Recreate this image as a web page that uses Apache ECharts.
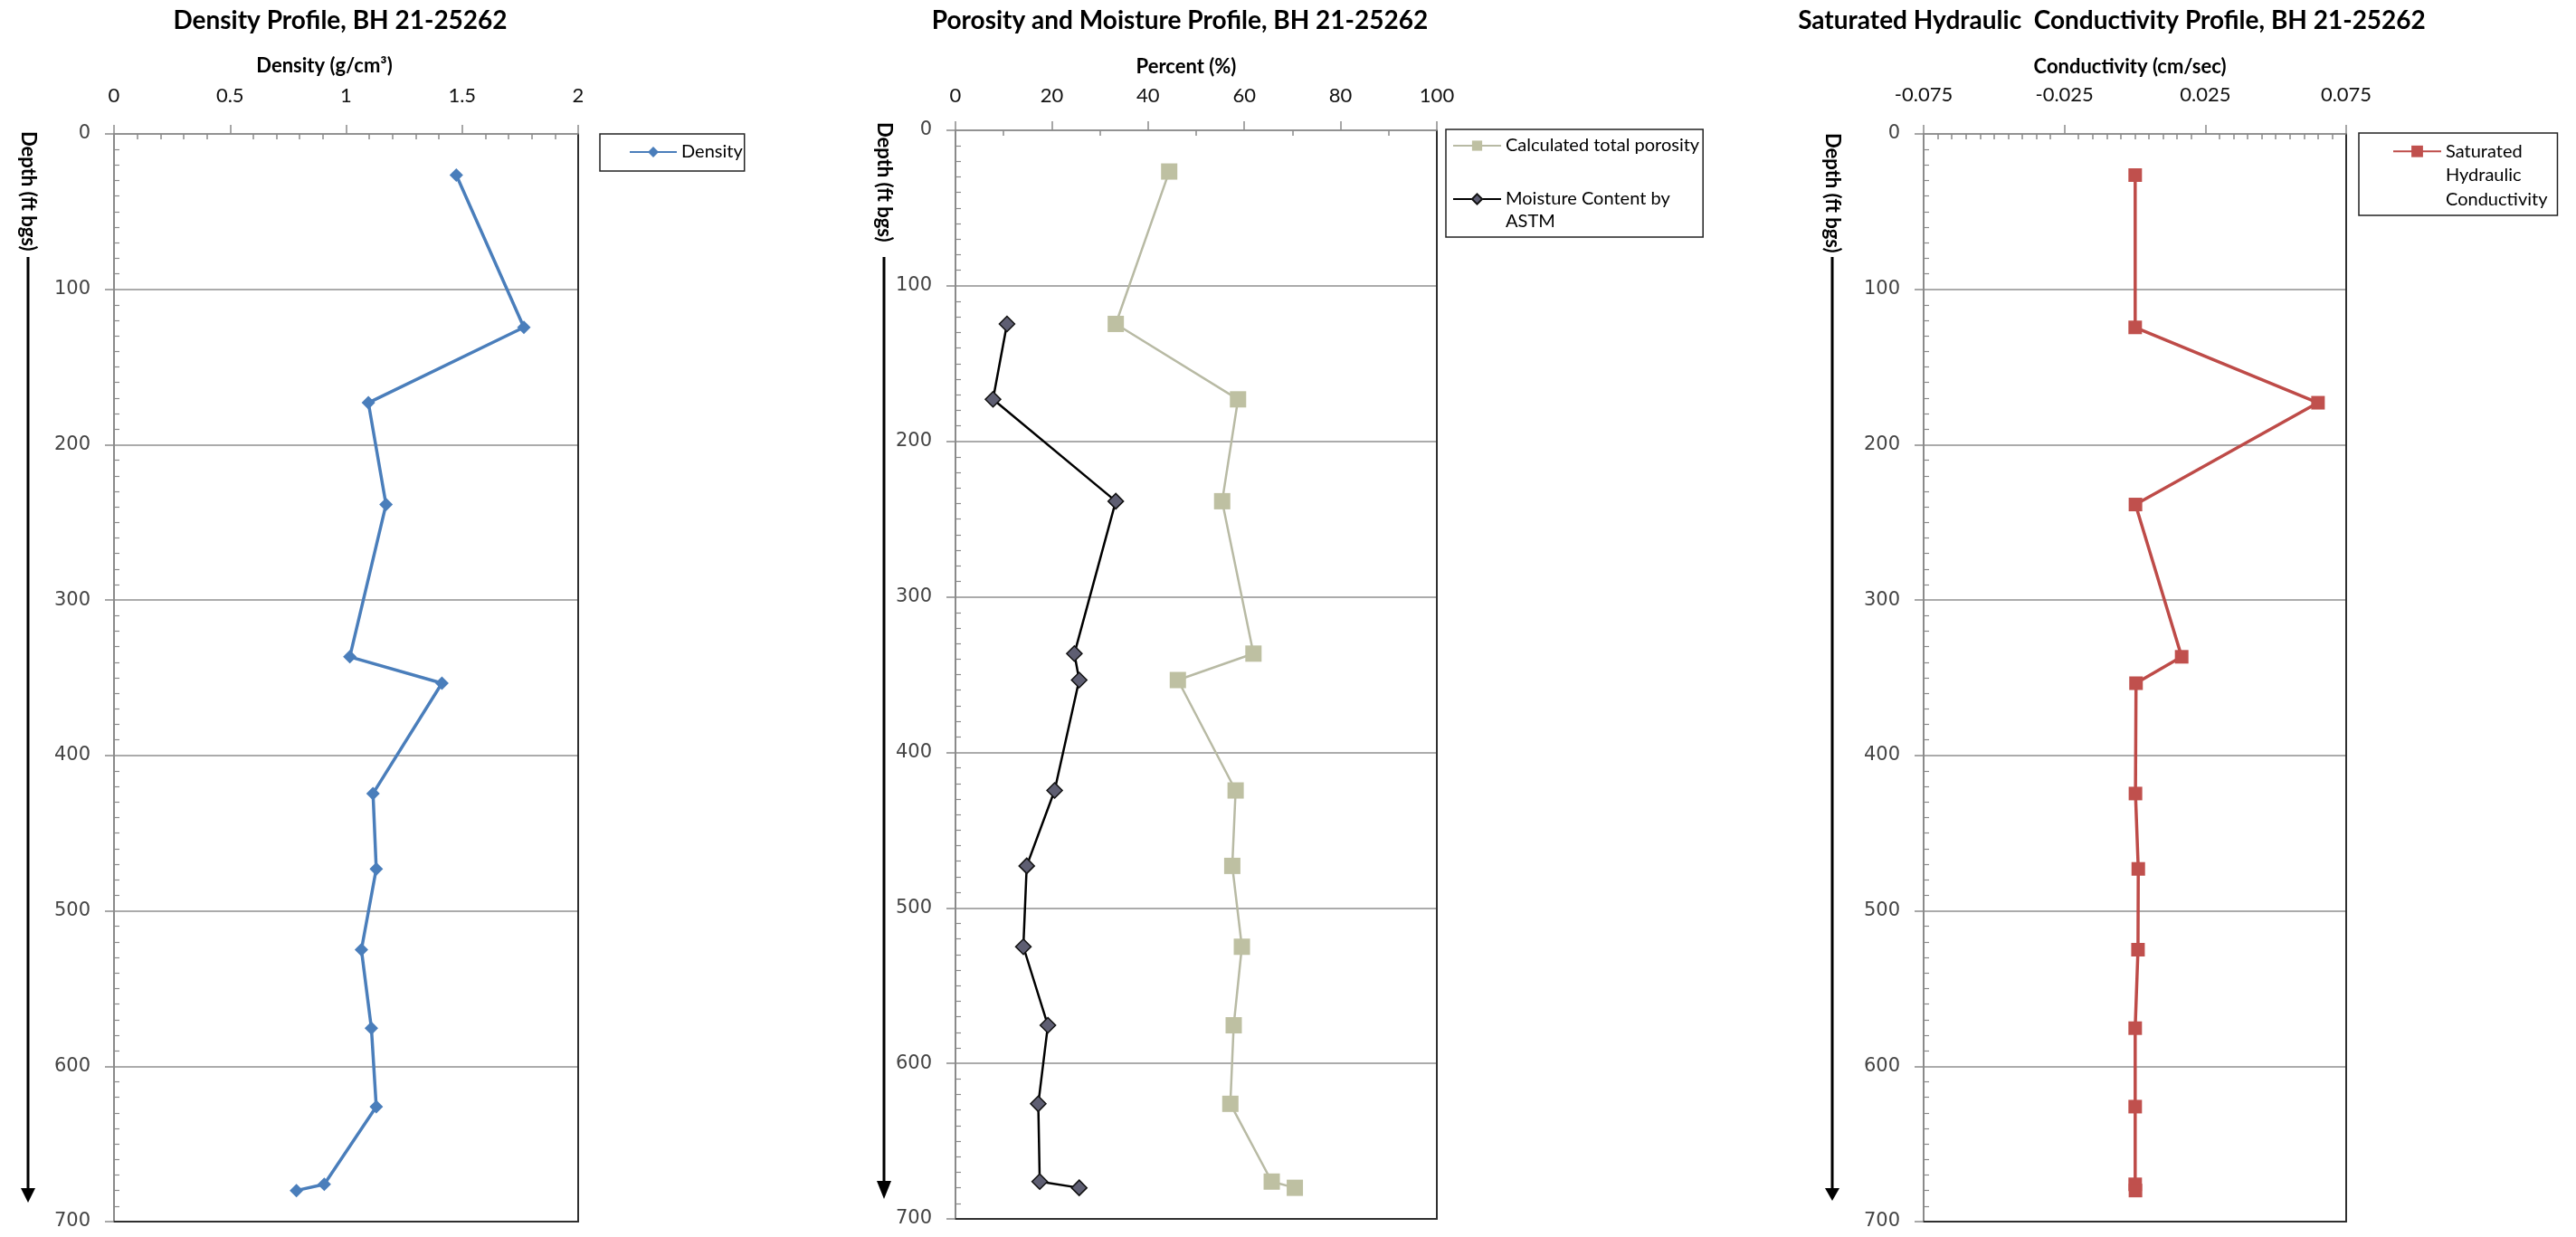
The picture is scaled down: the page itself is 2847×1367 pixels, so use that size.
<!DOCTYPE html>
<html>
<head>
<meta charset="utf-8">
<title>BH 21-25262 profiles</title>
<script src="https://cdn.jsdelivr.net/npm/echarts@6/dist/echarts.min.js"></script>
<style>
  html, body { margin: 0; padding: 0; background: #ffffff; }
  #chart { width: 2847px; height: 1367px; }
</style>
</head>
<body>
<div id="chart"></div>
<script>
// Sample depths (ft below ground surface) and the lab results measured at them
const depthFt = [26.5, 124.5, 173, 238.5, 336.5, 353.5, 424.5, 473, 525, 575.5, 626, 676, 680];
const densityGcm3 = [1.475, 1.766, 1.096, 1.172, 1.016, 1.413, 1.116, 1.130, 1.066, 1.109, 1.130, 0.906, 0.786];
const porosityPct = [44.4, 33.3, 58.7, 55.4, 61.9, 46.2, 58.2, 57.5, 59.5, 57.8, 57.1, 65.7, 70.5];
const moistureDepthFt = [124.5, 173, 238.5, 336.5, 353.5, 424.5, 473, 525, 575.5, 626, 676, 680];
const moisturePct = [10.7, 7.8, 33.3, 24.7, 25.7, 20.6, 14.8, 14.1, 19.2, 17.2, 17.5, 25.7];
const conductivityCmSec = [0.0001, 0.0001, 0.065, 0.0002, 0.0166, 0.0004, 0.0002, 0.0012, 0.0011, 0.0001, 0.0001, 0.0001, 0.0002];

// Axis ranges: [min, max, major step]
const depthRange = [0, 700, 100];
const densityRange = [0, 2, 0.5];
const percentRange = [0, 100, 20];
const conductivityRange = [-0.075, 0.075, 0.05];

const titles = [
  'Density Profile, BH 21-25262',
  'Porosity and Moisture Profile, BH 21-25262',
  'Saturated Hydraulic  Conductivity Profile, BH 21-25262'
];
const axisNames = ['Density (g/cm\u00B3)', 'Percent (%)', 'Conductivity (cm/sec)'];
const depthAxisName = 'Depth (ft bgs)';
const seriesNames = ['Density', 'Calculated total porosity', 'Moisture Content by ASTM', 'Saturated Hydraulic Conductivity'];

const pairs = (xs, ys) => xs.map((v, i) => [v, ys[i]]);

const FONT_UI = 'Lato, "Open Sans", sans-serif';
const FONT_TICK = '"DejaVu Sans", Verdana, sans-serif';
const AXIS_GRAY = '#8a8a8a';
const BORDER = '#2f2f2f';

// Panel layout (pixels)
const panels = [
  { grid: { left: 126, top: 148, width: 513, height: 1202 }, titleX: 376, range: densityRange, minor: 5,
    nameGap: 64, namePadR: 48, labelMargin: 31, digits: null, arrowX: 31, textTop: 145, lineTop: 284, lineBottom: 1313, tip: 1329 },
  { grid: { left: 1056, top: 144, width: 532, height: 1203 }, titleX: 1304, range: percentRange, minor: 2,
    nameGap: 59, namePadR: 22, labelMargin: 27, digits: null, arrowX: 977, textTop: 135, lineTop: 284, lineBottom: 1305, tip: 1325 },
  { grid: { left: 2126, top: 148, width: 467, height: 1202 }, titleX: 2334, range: conductivityRange, minor: 10,
    nameGap: 63, namePadR: 11, labelMargin: 32, digits: 3, arrowX: 2025, textTop: 147, lineTop: 284, lineBottom: 1313, tip: 1327 }
];

const xAxes = [];
const yAxes = [];
panels.forEach((p, i) => {
  // top value axis with labels, outward major ticks and inward minor ticks
  xAxes.push({
    gridIndex: i, type: 'value', position: 'top',
    min: p.range[0], max: p.range[1], interval: p.range[2],
    name: axisNames[i], nameLocation: 'middle', nameGap: p.nameGap,
    nameTextStyle: { fontFamily: FONT_UI, fontWeight: 'bold', fontSize: 22, color: '#000', padding: [0, p.namePadR, 0, 0] },
    axisLine: { show: true, onZero: false, lineStyle: { color: AXIS_GRAY, width: 1.5 } },
    axisTick: { show: true, length: 10, lineStyle: { color: AXIS_GRAY, width: 1.5 } },
    minorTick: { show: true, splitNumber: p.minor, length: -6, lineStyle: { color: AXIS_GRAY, width: 1.5 } },
    axisLabel: {
      margin: p.labelMargin, fontFamily: FONT_UI, fontSize: 22, color: '#111',
      formatter: p.digits ? (v) => v.toFixed(p.digits) : (v) => String(+v.toFixed(2))
    },
    splitLine: { show: false }
  });
  // bottom frame line
  xAxes.push({
    gridIndex: i, type: 'value', position: 'bottom', min: 0, max: 1,
    axisLine: { show: true, onZero: false, lineStyle: { color: BORDER, width: 2 } },
    axisTick: { show: false }, axisLabel: { show: false }, splitLine: { show: false }
  });
  // depth axis, increasing downward
  yAxes.push({
    gridIndex: i, type: 'value', position: 'left', inverse: true,
    min: depthRange[0], max: depthRange[1], interval: depthRange[2],
    axisLine: { show: true, onZero: false, lineStyle: { color: AXIS_GRAY, width: 2 } },
    axisTick: { show: true, length: 10, lineStyle: { color: AXIS_GRAY, width: 1.5 } },
    minorTick: { show: true, splitNumber: 10, length: -6, lineStyle: { color: AXIS_GRAY, width: 1.2 } },
    axisLabel: { margin: 26, fontFamily: FONT_TICK, fontSize: 21, color: '#444444' },
    splitLine: { show: true, lineStyle: { color: '#8f8f8f', width: 1.5 } }
  });
  // right frame line
  yAxes.push({
    gridIndex: i, type: 'value', position: 'right', min: 0, max: 1,
    axisLine: { show: true, onZero: false, lineStyle: { color: BORDER, width: 2 } },
    axisTick: { show: false }, axisLabel: { show: false }, splitLine: { show: false }
  });
});

// Rotated depth caption with a downward arrow, left of each panel
const depthCaptions = panels.map((p) => ({
  type: 'group',
  children: [
    { type: 'text', x: p.arrowX, y: p.textTop, rotation: -Math.PI / 2,
      style: { text: depthAxisName, fontFamily: FONT_UI, fontWeight: 'bold', fontSize: 22, fill: '#000', align: 'left', verticalAlign: 'middle' } },
    { type: 'line', shape: { x1: p.arrowX, y1: p.lineTop, x2: p.arrowX, y2: p.lineBottom },
      style: { stroke: '#000', lineWidth: 3 } },
    { type: 'polygon', shape: { points: [[p.arrowX - 8, p.lineBottom], [p.arrowX + 8, p.lineBottom], [p.arrowX, p.tip]] },
      style: { fill: '#000' } }
  ]
}));

// Legend captions; blank leading lines keep the swatch beside the first text line
const legendCaption = {
  'Density': 'Density',
  'Calculated total porosity': 'Calculated total porosity',
  'Moisture Content by ASTM': '\nMoisture Content by\nASTM',
  'Saturated Hydraulic Conductivity': '\n\nSaturated\nHydraulic\nConductivity'
};
const legendBase = {
  orient: 'vertical', selectedMode: false, align: 'left',
  borderColor: '#222', borderWidth: 1.5, backgroundColor: '#fff',
  formatter: (name) => legendCaption[name]
};

const option = {
  animation: false,
  backgroundColor: '#ffffff',
  title: panels.map((p, i) => ({
    text: titles[i], left: p.titleX, top: 9, textAlign: 'center', padding: 0,
    textStyle: { fontFamily: FONT_UI, fontWeight: 'bold', fontSize: 28, color: '#000' }
  })),
  grid: panels.map((p) => Object.assign({ containLabel: false }, p.grid)),
  xAxis: xAxes,
  yAxis: yAxes,
  legend: [
    Object.assign({}, legendBase, {
      left: 663, top: 148, padding: [8, 2, 9, 32], itemWidth: 52, itemHeight: 15,
      textStyle: { fontFamily: FONT_UI, fontSize: 20, color: '#000', lineHeight: 24, width: 64 },
      data: [seriesNames[0]]
    }),
    Object.assign({}, legendBase, {
      left: 1598, top: 143, padding: [5.5, 4, 4.5, 7], itemGap: 9, itemWidth: 53, itemHeight: 14,
      textStyle: { fontFamily: FONT_UI, fontSize: 20, color: '#000', lineHeight: 25, width: 211 },
      data: [seriesNames[1], seriesNames[2]]
    }),
    Object.assign({}, legendBase, {
      left: 2607, top: 147, padding: [-46, 11, 4.5, 37], itemWidth: 53, itemHeight: 16,
      textStyle: { fontFamily: FONT_UI, fontSize: 20, color: '#000', lineHeight: 26.5, width: 105 },
      data: [seriesNames[3]]
    })
  ],
  series: [
    {
      name: seriesNames[0], type: 'line', xAxisIndex: 0, yAxisIndex: 0,
      data: pairs(densityGcm3, depthFt),
      symbol: 'diamond', symbolSize: 15,
      lineStyle: { color: '#4A7EBB', width: 3.5 },
      itemStyle: { color: '#4A7EBB' }
    },
    {
      name: seriesNames[1], type: 'line', xAxisIndex: 2, yAxisIndex: 2,
      data: pairs(porosityPct, depthFt),
      symbol: 'rect', symbolSize: 18,
      lineStyle: { color: '#B8BAA4', width: 2.5 },
      itemStyle: { color: '#BEC0A2' }
    },
    {
      name: seriesNames[2], type: 'line', xAxisIndex: 2, yAxisIndex: 2,
      data: pairs(moisturePct, moistureDepthFt),
      symbol: 'diamond', symbolSize: 17,
      lineStyle: { color: '#000000', width: 2.5 },
      itemStyle: { color: '#5E5E72', borderColor: '#111111', borderWidth: 1.5 }
    },
    {
      name: seriesNames[3], type: 'line', xAxisIndex: 4, yAxisIndex: 4,
      data: pairs(conductivityCmSec, depthFt),
      symbol: 'rect', symbolSize: 15,
      lineStyle: { color: '#BE4B48', width: 3.5 },
      itemStyle: { color: '#C0504D' }
    }
  ],
  graphic: depthCaptions
};

const chart = echarts.init(document.getElementById('chart'), null, { renderer: 'canvas' });
chart.setOption(option);
</script>
</body>
</html>
